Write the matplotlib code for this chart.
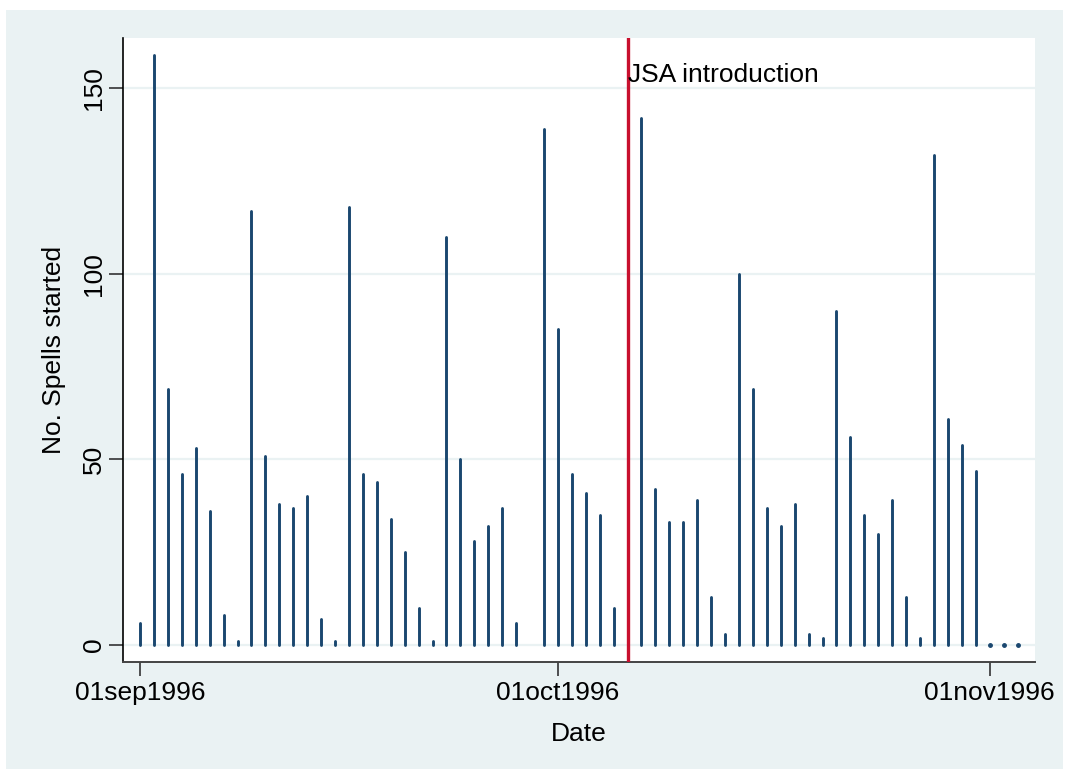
import numpy as np
import matplotlib
matplotlib.use("Agg")
import matplotlib.pyplot as plt
import matplotlib.dates as mdates
from matplotlib.patches import Rectangle
import pandas as pd

plt.rcParams['font.family'] = ['Liberation Sans', 'DejaVu Sans']

# daily counts of spells started, 01sep1996 - 03nov1996 (NaN = no spike drawn)
sep_counts = [6, 159, 69, 46, 53, 36, 8, 1, 117, 51, 38, 37, 40, 7, 1,
              118, 46, 44, 34, 25, 10, 1, 110, 50, 28, 32, 37, 6, np.nan, 139]
oct_counts = [85, 46, 41, 35, 10, np.nan,
              142, 42, 33, 33, 39, 13, 3,
              100, 69, 37, 32, 38, 3, 2,
              90, 56, 35, 30, 39, 13, 2,
              132, 61, 54, 47]
nov_counts = [0, 0, 0]
counts = sep_counts + oct_counts + nov_counts
dates = pd.date_range("1996-09-01", periods=len(counts), freq="D")

jsa_date = pd.Timestamp("1996-10-06")
jsa_label = "JSA introduction"
x_ticks = [pd.Timestamp("1996-09-01"), pd.Timestamp("1996-10-01"), pd.Timestamp("1996-11-01")]
y_ticks = [0, 50, 100, 150]

bg = "#EAF2F3"
navy = "#1A476F"
red = "#C8102E"
fs = 19

fig = plt.figure(figsize=(10.66, 7.69), dpi=100)
fig.patch.set_facecolor("white")
# outer light graph region (leaves thin white border top/left/right)
fig.patches.append(Rectangle((6 / 1066, 0), (1063 - 6) / 1066, (769 - 10) / 769,
                             transform=fig.transFigure, facecolor=bg,
                             edgecolor="none", zorder=-10))

ax = fig.add_axes([123 / 1066, 1 - 662 / 769, (1035 - 123) / 1066, (662 - 38) / 769])
ax.set_facecolor("white")

# grid
for yv in y_ticks:
    ax.axhline(yv, color=bg, lw=1.6, zorder=0)

mask = ~np.isnan(np.array(counts, dtype=float))
d = dates[mask]
c = np.array(counts, dtype=float)[mask]
spikes = ax.vlines(d, 0, c, colors=navy, lw=2.1, zorder=2)
spikes.set_capstyle("round")
zeros = c == 0
ax.plot(d[zeros], c[zeros], "o", color=navy, ms=2.5, zorder=2)

ax.axvline(jsa_date, color=red, lw=2.4, zorder=3)
ax.text(jsa_date, 150.3, jsa_label, fontsize=fs, ha="left", va="bottom", zorder=4)

ax.set_xlim(pd.Timestamp("1996-09-01") - pd.Timedelta(days=1.22),
            pd.Timestamp("1996-09-01") + pd.Timedelta(days=64.25))
ax.set_ylim(-4.58, 163.5)

ax.set_xticks(x_ticks)
ax.xaxis.set_major_formatter(plt.FuncFormatter(
    lambda v, p: mdates.num2date(v).strftime("%d%b%Y").lower()))
ax.set_yticks(y_ticks)
ax.tick_params(axis="both", labelsize=fs, length=10, width=1.2, color="#333333")
ax.tick_params(axis="x", pad=4)
ax.tick_params(axis="y", pad=2)
for lab in ax.get_yticklabels():
    lab.set_rotation(90)
    lab.set_va("center")

for s in ["top", "right"]:
    ax.spines[s].set_visible(False)
ax.spines["left"].set_color("black")
ax.spines["bottom"].set_color("#444444")
ax.spines["left"].set_linewidth(1.2)
ax.spines["bottom"].set_linewidth(1.4)

ax.set_xlabel("Date", fontsize=fs, labelpad=12)
ax.set_ylabel("No. Spells started", fontsize=fs, labelpad=12)

fig.savefig("out.png", dpi=100, facecolor=fig.get_facecolor())
